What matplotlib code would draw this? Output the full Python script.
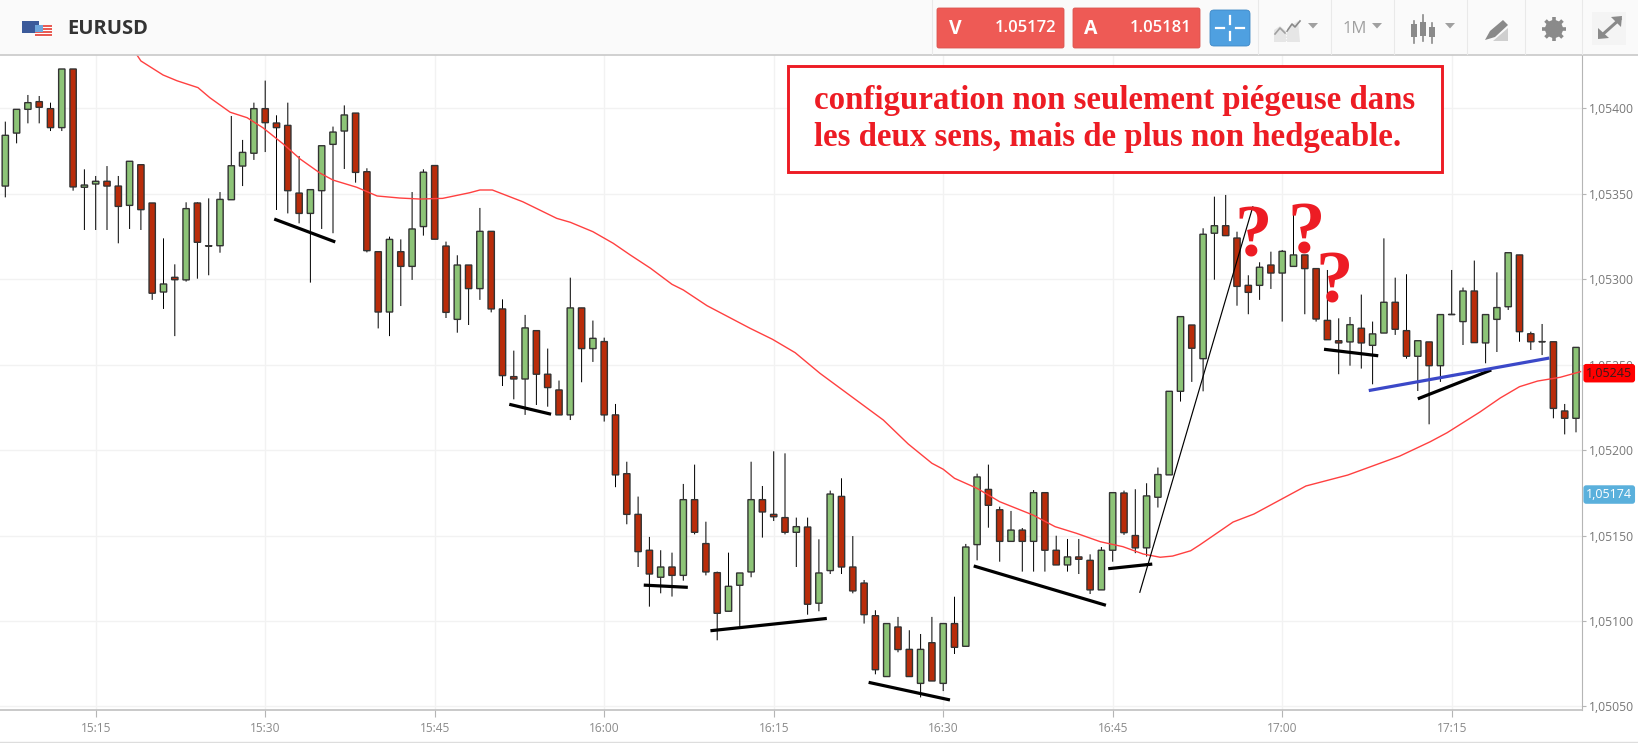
#!/usr/bin/env python3
# -*- coding: utf-8 -*-
import numpy as np
import matplotlib
matplotlib.use('Agg')
import matplotlib.pyplot as plt
from matplotlib.patches import Rectangle, FancyBboxPatch, Polygon, Circle

plt.rcParams['font.family'] = ['Open Sans', 'DejaVu Sans']

# prix en points au-dessus de 1.05000 (1 point = 0.00001), une bougie par minute depuis 15:07
BASE = 1.05
opens = [354.5,385.5,399.4,403.9,399.8,388.7,423,353.8,355.7,357.3,
         354.5,343.2,367,344.6,292.5,301.1,299.6,344.6,319.4,319.6,
         346.5,366.2,373.7,399.8,391.4,390,350.4,338.5,351.8,378.9,
         386.7,397.2,362.9,316.1,280.8,316.1,307.5,330.8,366.5,319.4,
         276.5,308.3,294.5,328,282.6,243,241.6,269.9,244.4,235.2,
         220.6,283.2,259.4,263.5,220.6,186.2,162.4,141.4,125.6,131.6,
         126.7,171,145.3,128.3,105.7,120.9,128.7,171,162.4,160.5,
         151.9,155,110.4,129.5,172.9,131.6,122.2,103.1,67.5,96.5,
         83.4,63.5,87.3,63.5,98.5,85.2,144.7,177,165.1,146.6,
         153.2,146.6,175.1,141.4,132.8,137.5,135.5,118.2,141.4,174.9,
         150,142.8,172.4,185.5,234.4,273.2,253.5,326.9,331.3,324.1,
         296.4,296.4,308.3,303.6,307.5,314.2,306.2,275.9,264,263.3,
         271.3,261.3,268.5,286.5,269.9,254.9,263.3,249.4,279.4,275.2,
         293.1,262.7,276.5,283.9,314.2,268.1,263.5,263.4,222.9,218.6]
closes = [384.2,399.4,403.3,400.6,388.7,423,354,355.1,357.3,354.5,
          342.6,369,340.7,291.8,297.2,299.7,341.3,321.6,319.6,346.7,
          366.4,374.2,399.8,391.6,388.7,351.8,338.5,352.4,378.1,386.1,
          396.1,362.5,316.7,280.8,323.3,307.5,329.4,362.6,323.4,280.6,
          308.3,294.5,328,282.6,243.6,241.6,271.5,244.4,236.6,220.6,
          283.2,259.4,265.4,220.6,185.5,162.4,140.6,127.5,131.6,126.7,
          171,151.9,128.7,104.5,120.3,128.1,171,163.8,161,151.9,
          155.2,109.8,128.1,174.3,131.6,117.6,103.7,71.5,98.5,83.3,
          67.5,83.4,64.9,98.5,84.6,143.3,184.3,167.7,146.6,153.2,
          146.6,175.1,141.4,132.8,137.5,136.1,118.2,141.4,175.1,151.7,
          142.8,173.2,185.7,234.4,278.1,259.6,326.3,331.3,325.5,295.8,
          292.3,307,303.6,316.3,314.2,306.2,276.7,264.6,262.7,273.4,
          262.7,268,286.5,270.7,254.9,264,249.4,279.3,279.3,293.1,
          262.9,279.3,283.4,315.5,269.3,263.4,263.4,224.4,218.6,260.1]
highs = [392.2,399.4,407.8,407.2,403.3,423,423,364.3,360.4,366.2,
         360.4,369,367,344.6,323.9,308.7,345,345,347.3,351,
         395.5,381.5,403.3,416.2,395.9,403.3,372.1,352.4,378.1,389.3,
         401.7,397.2,364.9,316.1,324.9,323.3,351,364.3,366.5,322,
         314,308.3,341.7,328,288.2,258.2,279.1,269.9,259.4,240.7,
         300.9,283.2,275.8,265.8,227,193.2,172.8,149.2,141.4,140,
         180.2,191.5,158.1,128.9,140,128.1,193.2,179,199.3,198.1,
         160.5,160.5,147.8,176.3,183.5,149.7,124,106.3,98.5,102.4,
         94.6,92.4,102.4,98.5,114.2,145.1,186.2,191.5,166.9,164.4,
         154.4,176.6,175.1,149.9,148,148,139,143.3,175.1,176.3,
         177.1,180.6,189.8,234.4,278.1,273.2,329.8,348.3,349.3,327.8,
         302.3,309.9,316.1,317.1,339.5,314.2,306.2,305.4,277.1,277.9,
         291,275.2,323.9,300.9,302.9,264,263.3,279.3,305.4,295.1,
         310.9,279.3,304,315.5,314.2,269.3,273.8,263.4,227,260.1]
lows = [347.9,379.5,391.2,391.2,386.7,386.7,351.8,328.8,328.8,328.8,
        321,329.4,328.8,287.9,282.6,266.7,298.6,300.3,302.3,315.5,
        346.5,354.5,369.8,374.4,340.5,338.5,332.7,298,329.4,326.9,
        364.5,356.5,315.7,271.2,266.7,284.3,299.6,325.5,323.4,277.3,
        268.7,273.2,287.9,280.6,237.5,229.7,220.6,226.4,225.4,220.6,
        217.6,239.7,251.6,216.7,178.3,156.6,131.6,108.4,116.2,114.3,
        123.6,150.7,126.7,88.7,105.7,97.1,125.6,148.8,158.5,150.7,
        131.6,103.7,105.7,127.5,127.5,116.2,98.5,68.8,67.5,81.7,
        67.5,55.3,64.9,59,80.7,85.2,135.5,154.6,134.7,146.6,
        128.9,128.9,128.9,132.8,128.9,127.5,115.8,118.2,134.7,150.4,
        139.7,137.7,166.4,185.5,228.4,239.9,234.4,299.7,325.5,284.5,
        279.5,287.9,294.3,275.2,307.5,279.5,275.2,264.6,244.4,249.4,
        247.7,238.5,268.5,267.4,253.5,234.6,215.1,239.9,279.3,261.5,
        262.9,250.8,257.4,282,263.4,258.6,255.6,218.6,209.2,210.4]

# moyenne mobile rouge (numero de bougie, points)
ma_pos = [11.65,12,13.96,15.2,17.05,18.1,19.9,21.4,22.8,24.6,26.1,27.85,29,31.1,32.9,34.9,36.7,38.7,
          41.1,42,43.1,45.8,48.8,50,52,53.8,55.3,57.1,59,60,62.1,65.9,67.9,69.9,72.1,77.7,79.9,82,83,84,
          86,88,90.95,92.9,94.8,96.9,98.9,100.7,102.2,103.3,104.9,105.7,108.65,110.5,115.1,118.8,123.4,
          126.1,127.6,130.5,132.3,134,135.6,137.6,139.4]
ma_val = [431.2,427.7,419.5,416.1,412.1,406.2,397.7,394.5,388.6,379.1,370.3,362.1,358,353.8,348.7,347.5,346.9,347.3,
          350.6,352.2,352.2,345.3,335.6,333.3,327.8,321,314.2,306.4,297,293.7,284.5,271.3,264.8,257,244.9,217.6,203.6,192.3,188.8,183.5,
          177.6,169.8,162,155.2,151.3,146.4,143.5,139.2,137.3,138,141.1,144.5,157.9,162.6,179,185.4,196.5,
          204.9,210.2,222.3,230.5,237.1,240.4,242.6,245.9]

# traits dessines a la main sur le graphique
thick_lines = [([23.8,29.2],[335.2,321.8]), ([44.6,48.3],[226.8,221]), ([56.5,60.4],[121,119.7]),
               ([62.4,72.7],[94.3,101.5]), ([76.4,83.6],[64.1,53.8]), ([85.7,97.4],[132.2,109.2]),
               ([97.6,101.5],[130.6,133.3]), ([116.7,121.5],[259,255.2]), ([125,131.5],[230,246.9])]
thin_line = ([100.4,110.4],[116.8,342.4])
blue_line = ([120.8,136.5],[235,253.7])
question_pos = [110.4,115.1,117.6]
question_val = [313,315.3,286.1]

tick_pos = [8,23,38,53,68,83,98,113,128]
tick_labels = ['15:15','15:30','15:45','16:00','16:15','16:30','16:45','17:00','17:15']
price_ticks = [400,350,300,250,200,150,100,50]
price_labels = ['1,05400','1,05350','1,05300','1,05250','1,05200','1,05150','1,05100','1,05050']
last_labels = [('1,05245',245,'#ff0000','#3a1a1a'), ('1,05174',174,'#5ab0dc','white')]

annotation_lines = ['configuration non seulement piégeuse dans',
                    'les deux sens, mais de plus non hedgeable.']


def to_price(points):
    return BASE + np.asarray(points, dtype=float) * 1e-5


W, H = 1638, 743
fig = plt.figure(figsize=(W / 100, H / 100), dpi=100, facecolor='white')
ax = fig.add_axes([0, (H - 710) / H, 1582 / W, (710 - 55) / H])

xs = np.arange(len(opens))
o, c, hi, lo = to_price(opens), to_price(closes), to_price(highs), to_price(lows)
ax.vlines(xs, lo, hi, color='black', lw=0.72, zorder=3).set_snap(False)
colors = ['#8dc477' if c1 >= o1 else '#b92c0a' for o1, c1 in zip(o, c)]
bars = ax.bar(xs, np.abs(c - o), bottom=np.minimum(o, c), width=0.56, color=colors,
              edgecolor='#333333', linewidth=1.0, zorder=4)
for b in bars:
    b.set_snap(False)

ax.plot(ma_pos, to_price(ma_val), color='#ff4040', lw=1.0, zorder=5)
for lx, ly in thick_lines:
    ax.plot(lx, to_price(ly), color='black', lw=2.3, zorder=6, solid_capstyle='butt')
ax.plot(thin_line[0], to_price(thin_line[1]), color='black', lw=0.85, zorder=6)
ax.plot(blue_line[0], to_price(blue_line[1]), color='#3b48c8', lw=2.3, zorder=6)
for qx, qy in zip(question_pos, to_price(question_val)):
    ax.text(qx, qy, '?', color='#ed1c24', fontsize=54, fontweight='bold', family='Liberation Serif',
            ha='center', va='baseline', zorder=7)

ax.set_xlim(-5.3 / 11.3, (1582 - 5.3) / 11.3)
ax.set_ylim(to_price(400 - (710 - 108.3) / 1.709), to_price(400 - (55 - 108.3) / 1.709))
ax.set_xticks(tick_pos)
ax.set_xticklabels(tick_labels, fontsize=8.6, color='#8a8a8a')
ax.set_yticks(to_price(price_ticks))
ax.set_yticklabels(price_labels, fontsize=8.7, color='#777777')
ax.yaxis.tick_right()
ax.tick_params(axis='x', length=5, width=0.8, color='#b5b5b5', pad=4)
ax.tick_params(axis='y', length=3, width=0.8, color='#b5b5b5', pad=2)
ax.grid(True, color='#f2f2f2', lw=1.0, zorder=0)
ax.set_axisbelow(True)
for side in ['top', 'left']:
    ax.spines[side].set_visible(False)
ax.spines['right'].set_color('#b5b5b5')
ax.spines['bottom'].set_color('#c0c0c0')
ax.spines['bottom'].set_linewidth(1.2)

for txt, val, bg, fg in last_labels:
    ax.annotate(txt, xy=(1, to_price(val)), xycoords=('axes fraction', 'data'), xytext=(3, 0),
                textcoords='offset points', fontsize=9, color=fg, va='center', ha='left', zorder=10,
                annotation_clip=False,
                bbox=dict(boxstyle='round,pad=0.22', fc=bg, ec='none'))

# bandeau du haut et cadre de texte, en pixels
ui = fig.add_axes([0, 0, 1, 1], facecolor='none')
ui.set_xlim(0, W)
ui.set_ylim(H, 0)
ui.axis('off')

ui.add_patch(Rectangle((0, 0), W, 54, fc='#fafafa', ec='none'))
ui.plot([0, W], [54.5, 54.5], color='#c8c8c8', lw=1.2)
ui.plot([0, W], [742, 742], color='#dddddd', lw=1.0)
for sx in [932, 1258, 1331, 1394, 1467, 1525, 1582]:
    ui.plot([sx, sx], [0, 54], color='#e9e9e9', lw=0.8)

# drapeaux
ui.add_patch(Rectangle((22, 21), 17, 12, fc='#3b5a9a', ec='none'))
ui.add_patch(Rectangle((35, 25), 17, 12, fc='white', ec='none'))
for sy in [25, 28, 31, 34]:
    ui.add_patch(Rectangle((35, sy), 17, 1.5, fc='#e85c55', ec='none'))
ui.add_patch(Rectangle((35, 25), 8, 6.5, fc='#6ea6dc', ec='none'))
ui.text(67, 29, 'EURUSD', fontsize=14.5, fontweight='bold', color='#333333', va='center', ha='left')

# boutons V / A
for bx, bw, letter, price in [(937, 127, 'V', '1.05172'), (1073, 127, 'A', '1.05181')]:
    ui.add_patch(FancyBboxPatch((bx + 1, 9), bw - 2, 38, boxstyle='round,pad=1,rounding_size=2',
                                fc='#ee5a55', ec='#d9534f', lw=0.6))
    ui.text(bx + 18, 28.5, letter, fontsize=14, fontweight='bold', color='white', ha='center', va='center')
    ui.text(bx + bw - 8, 28.5, price, fontsize=12, fontweight='semibold', color='white', ha='right', va='center')
ui.add_patch(FancyBboxPatch((1211, 11), 38, 34, boxstyle='round,pad=1,rounding_size=4',
                            fc='#4fa0e0', ec='#3f88c5', lw=0.6))
for seg in [([1230, 1230], [16, 24]), ([1230, 1230], [32, 40]), ([1216, 1224], [28, 28]), ([1236, 1244], [28, 28])]:
    ui.plot(seg[0], seg[1], color='white', lw=1.6)

icon = '#a0a0a0'
# type de graphique
ui.add_patch(Polygon([(1274, 42), (1274, 30), (1280, 26), (1286, 31), (1292, 25), (1298, 21), (1300, 42)],
                     fc='#e6e6e6', ec='none'))
ui.plot([1275, 1280, 1285], [34, 28, 33], color=icon, lw=1.2)
ui.plot([1287, 1292, 1295, 1300], [31, 24, 27, 21], color='#8a8a8a', lw=1.2)
ui.plot([1286, 1286], [20, 42], color='white', lw=0.8, ls=':')
ui.text(1355, 29, '1M', fontsize=12, color=icon, ha='center', va='center')
for tx in [1313, 1377, 1450]:
    ui.add_patch(Polygon([(tx - 5, 23), (tx + 5, 23), (tx, 28.5)], fc=icon, ec='none'))
# bougies
for cx, ctop, cbot, wtop, wbot in [(1414, 24, 37, 21, 43), (1423, 22, 36, 15, 41), (1432, 27, 37, 23, 43)]:
    ui.plot([cx, cx], [wtop, wbot], color='#8a8a8a', lw=1.2)
    ui.add_patch(Rectangle((cx - 3, ctop), 6, cbot - ctop, fc='#8a8a8a', ec='none'))
# crayon
ui.add_patch(Polygon([(1485, 40), (1490, 31), (1503, 20), (1508, 25), (1495, 37)], fc='#8a8a8a', ec='none'))
ui.add_patch(Polygon([(1493, 41), (1508, 28), (1508, 41)], fc='#cfcfcf', ec='none'))
# roue dentee
for ang in np.arange(0, 180, 45):
    dx, dy = 12 * np.cos(np.radians(ang)), 12 * np.sin(np.radians(ang))
    ui.plot([1554 - dx, 1554 + dx], [29 - dy, 29 + dy], color='#8a8a8a', lw=2.6, solid_capstyle='butt')
ui.add_patch(Circle((1554, 29), 9, fc='#8a8a8a', ec='none'))
ui.add_patch(Circle((1554, 29), 4, fc='#fafafa', ec='none'))
# plein ecran
ui.add_patch(Rectangle((1592, 12), 34, 33, fc='#f4f4f4', ec='none'))
ui.plot([1602, 1620], [35, 19], color='#8a8a8a', lw=2.2)
ui.add_patch(Polygon([(1611, 17), (1622, 16), (1621, 27)], fc='#8a8a8a', ec='none'))
ui.add_patch(Polygon([(1598, 28), (1598, 39), (1609, 38)], fc='#8a8a8a', ec='none'))

# cadre rouge
ui.add_patch(Rectangle((788, 66), 654, 106, fc='white', ec='#ed1c24', lw=2.1, zorder=8))
ui.text(814.5, 109, annotation_lines[0], color='#ed1c24', fontsize=23.7, fontweight='bold',
        family='Liberation Serif', ha='left', va='baseline', zorder=9)
ui.text(814.5, 145.7, annotation_lines[1], color='#ed1c24', fontsize=23.7, fontweight='bold',
        family='Liberation Serif', ha='left', va='baseline', zorder=9)

fig.savefig('out.png', dpi=100)
